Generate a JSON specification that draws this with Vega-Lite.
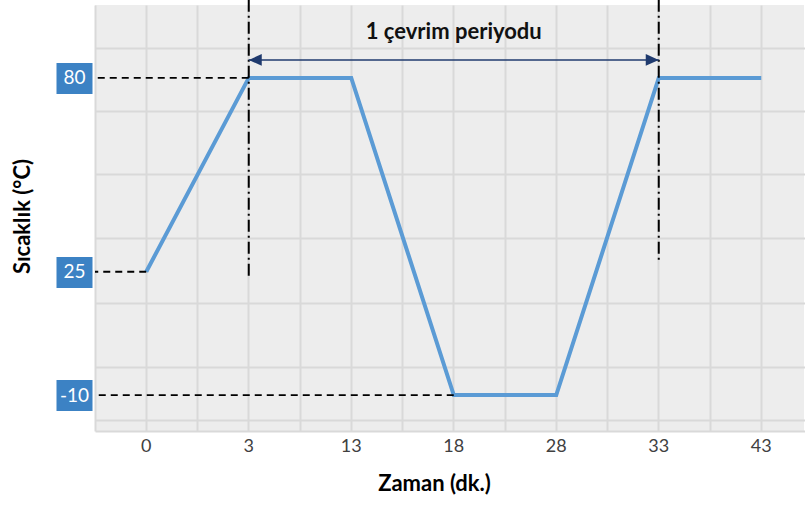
{
  "$schema": "https://vega.github.io/schema/vega-lite/v6.json",
  "width": 709,
  "height": 426,
  "autosize": {"type": "none"},
  "padding": {"left": 95, "top": 5, "right": 1, "bottom": 78},
  "background": "white",
  "config": {"view": {"fill": "#ededed", "stroke": null}, "font": "Lato"},
  "datasets": {
    "sicaklik": [
      {"zaman": "0", "sicaklik": 25},
      {"zaman": "3", "sicaklik": 80},
      {"zaman": "13", "sicaklik": 80},
      {"zaman": "18", "sicaklik": -10},
      {"zaman": "28", "sicaklik": -10},
      {"zaman": "33", "sicaklik": 80},
      {"zaman": "43", "sicaklik": 80}
    ],
    "kilavuz": [
      {"deger": 80, "bitis": "3"},
      {"deger": 25, "bitis": "0"},
      {"deger": -10, "bitis": "18"}
    ],
    "dikey": [
      {"zaman": "3", "ust": 102.2, "alt": 23.2},
      {"zaman": "33", "ust": 102.2, "alt": 27.5}
    ],
    "ok": [
      {"zaman": "3", "deger": 85.1, "yon": "sol"},
      {"zaman": "33", "deger": 85.1, "yon": "sag"}
    ],
    "baslik": [
      {"zaman": "18", "deger": 93.1, "metin": "1 çevrim periyodu"}
    ]
  },
  "layer": [
    {
      "data": {"name": "sicaklik"},
      "mark": {"type": "line", "color": "#5b9bd5", "strokeWidth": 4},
      "encoding": {
        "x": {
          "field": "zaman", "type": "ordinal", "bandPosition": 0.5,
          "scale": {"type": "band", "domain": ["0", "3", "13", "18", "28", "33", "43"], "range": [0, 717.5], "paddingInner": 0, "paddingOuter": 0},
          "axis": {
            "orient": "bottom", "bandPosition": 0.5, "grid": true, "gridColor": "#d9d9d9", "gridWidth": 2,
            "ticks": false, "domain": false, "labelAngle": 0, "labelFontSize": 18, "labelColor": "#404040", "labelPadding": 6,
            "title": "Zaman (dk.)", "titleFontSize": 22, "titleFontWeight": "bold", "titleColor": "black",
            "titleX": 339, "titleY": 52, "titleBaseline": "middle", "titleAlign": "center"
          }
        },
        "y": {
          "field": "sicaklik", "type": "quantitative",
          "scale": {"domain": [-20.2, 100.7], "nice": false, "zero": false},
          "axis": {
            "orient": "left", "values": [88.5, 70.5, 52.8, 34.5, 16.1, -1.9, -17.1, -20.2],
            "grid": true, "gridColor": "#d9d9d9", "gridWidth": 2, "labels": false, "ticks": false, "domain": false,
            "title": "Sıcaklık (°C)", "titleFontSize": 22, "titleFontWeight": "bold", "titleColor": "black",
            "titleX": -73, "titleY": 211, "titleAngle": -90, "titleAlign": "center", "titleBaseline": "middle"
          }
        }
      }
    },
    {
      "data": {"name": "kilavuz"},
      "mark": {"type": "rule", "color": "black", "strokeWidth": 1.8, "strokeDash": [7, 5]},
      "encoding": {
        "x": {
          "field": "bitis", "type": "ordinal", "bandPosition": 0.5,
          "axis": {"orient": "bottom", "bandPosition": 0, "grid": true, "gridColor": "#d9d9d9", "gridWidth": 2, "labels": false, "ticks": false, "domain": false, "title": null}
        },
        "x2": {"value": 0},
        "y": {
          "field": "deger", "type": "quantitative",
          "axis": {
            "orient": "left", "values": [80, 25, -10], "grid": false, "domain": false, "ticks": true,
            "tickSize": 36, "tickWidth": 31, "tickColor": "#3c82c4", "tickCap": "butt",
            "labelExpr": "datum.value < 0 ? '-' + abs(datum.value) : '' + datum.value",
            "labelColor": "white", "labelFontSize": 19, "labelAlign": "center", "labelPadding": -18, "offset": 3, "title": null
          }
        }
      }
    },
    {
      "data": {"name": "dikey"},
      "mark": {"type": "rule", "color": "black", "strokeWidth": 2, "strokeDash": [12, 4, 2, 4], "clip": false},
      "encoding": {
        "x": {"field": "zaman", "type": "ordinal", "bandPosition": 0.5, "axis": null},
        "y": {"field": "ust", "type": "quantitative", "axis": null},
        "y2": {"field": "alt"}
      }
    },
    {
      "data": {"name": "ok"},
      "mark": {"type": "line", "color": "#1f3a6e", "strokeWidth": 1.5},
      "encoding": {
        "x": {"field": "zaman", "type": "ordinal", "bandPosition": 0.5, "axis": null},
        "y": {"field": "deger", "type": "quantitative", "axis": null}
      }
    },
    {
      "data": {"name": "ok"},
      "mark": {"type": "point", "filled": true, "color": "#1f3a6e", "opacity": 1, "size": 169},
      "encoding": {
        "x": {"field": "zaman", "type": "ordinal", "bandPosition": 0.5, "axis": null},
        "y": {"field": "deger", "type": "quantitative", "axis": null},
        "shape": {"field": "yon", "type": "nominal", "scale": {"domain": ["sol", "sag"], "range": ["M0,0L2,-0.9L2,0.9Z", "M0,0L-2,-0.9L-2,0.9Z"]}, "legend": null}
      }
    },
    {
      "data": {"name": "baslik"},
      "mark": {"type": "text", "fontSize": 22, "fontWeight": "bold", "color": "#111111", "align": "center", "baseline": "middle"},
      "encoding": {
        "x": {"field": "zaman", "type": "ordinal", "bandPosition": 0.5, "axis": null},
        "y": {"field": "deger", "type": "quantitative", "axis": null},
        "text": {"field": "metin"}
      }
    }
  ],
  "resolve": {"axis": {"x": "independent", "y": "independent"}}
}
